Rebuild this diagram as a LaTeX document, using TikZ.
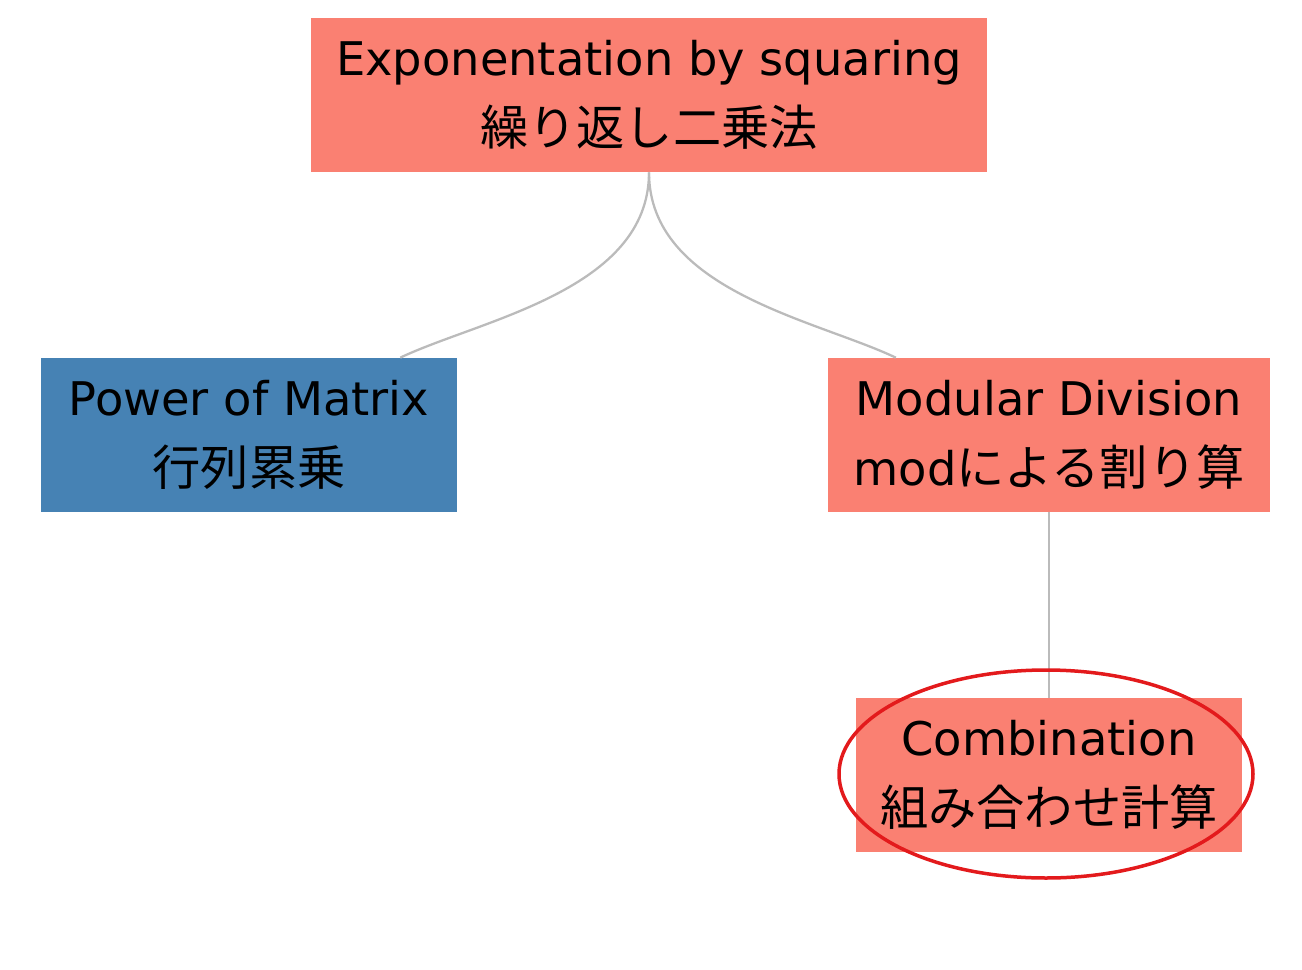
\documentclass[tikz,border=0pt]{standalone}
\usepackage{fontspec}
\setmainfont{DejaVu Sans}
\newfontfamily\jpfont[Scale=1.04]{Noto Sans CJK JP}
\usetikzlibrary{calc}
\definecolor{boxsalmon}{HTML}{FA8072}
\definecolor{boxsteel}{HTML}{4682B4}
\definecolor{linkgray}{HTML}{BBBBBB}
\definecolor{markred}{HTML}{E31A1C}

\begin{document}
\begin{tikzpicture}[x=0.02cm, y=-0.02cm,
  topic/.style={fill=boxsalmon, minimum height=3.08cm, inner sep=0pt, align=center,
    font=\fontsize{26.4}{40}\selectfont},
  link/.style={draw=linkgray, line width=1.3pt}]
\useasboundingbox (0,0) rectangle (1302,970);
\node[topic, minimum width=13.52cm] (eps) at (649,95) {Exponentation by squaring\\{\jpfont 繰り返し二乗法}};
\node[topic, fill=boxsteel, minimum width=8.32cm] (pm) at (249,435) {Power of Matrix\\{\jpfont 行列累乗}};
\node[topic, minimum width=8.84cm] (md) at (1049,435) {Modular Division\\mod{\jpfont による割り算}};
\node[topic, minimum width=7.72cm] (comb) at (1049,775) {Combination\\{\jpfont 組み合わせ計算}};
% links hit the children off centre
\coordinate (pm-in) at ($(pm.north west)!0.863!(pm.north east)$);
\coordinate (md-in) at ($(md.north west)!0.154!(md.north east)$);
\draw[link] (eps.south) .. controls +(0,118) and +(80,-38) .. (pm-in);
\draw[link] (eps.south) .. controls +(0,118) and +(-80,-38) .. (md-in);
\draw[link] (md.south) -- (comb.north);
% highlight
\draw[markred, line width=0.07cm] ($(comb.center)+(-3,-1)$) ellipse [x radius=207, y radius=104];
\end{tikzpicture}
\end{document}
